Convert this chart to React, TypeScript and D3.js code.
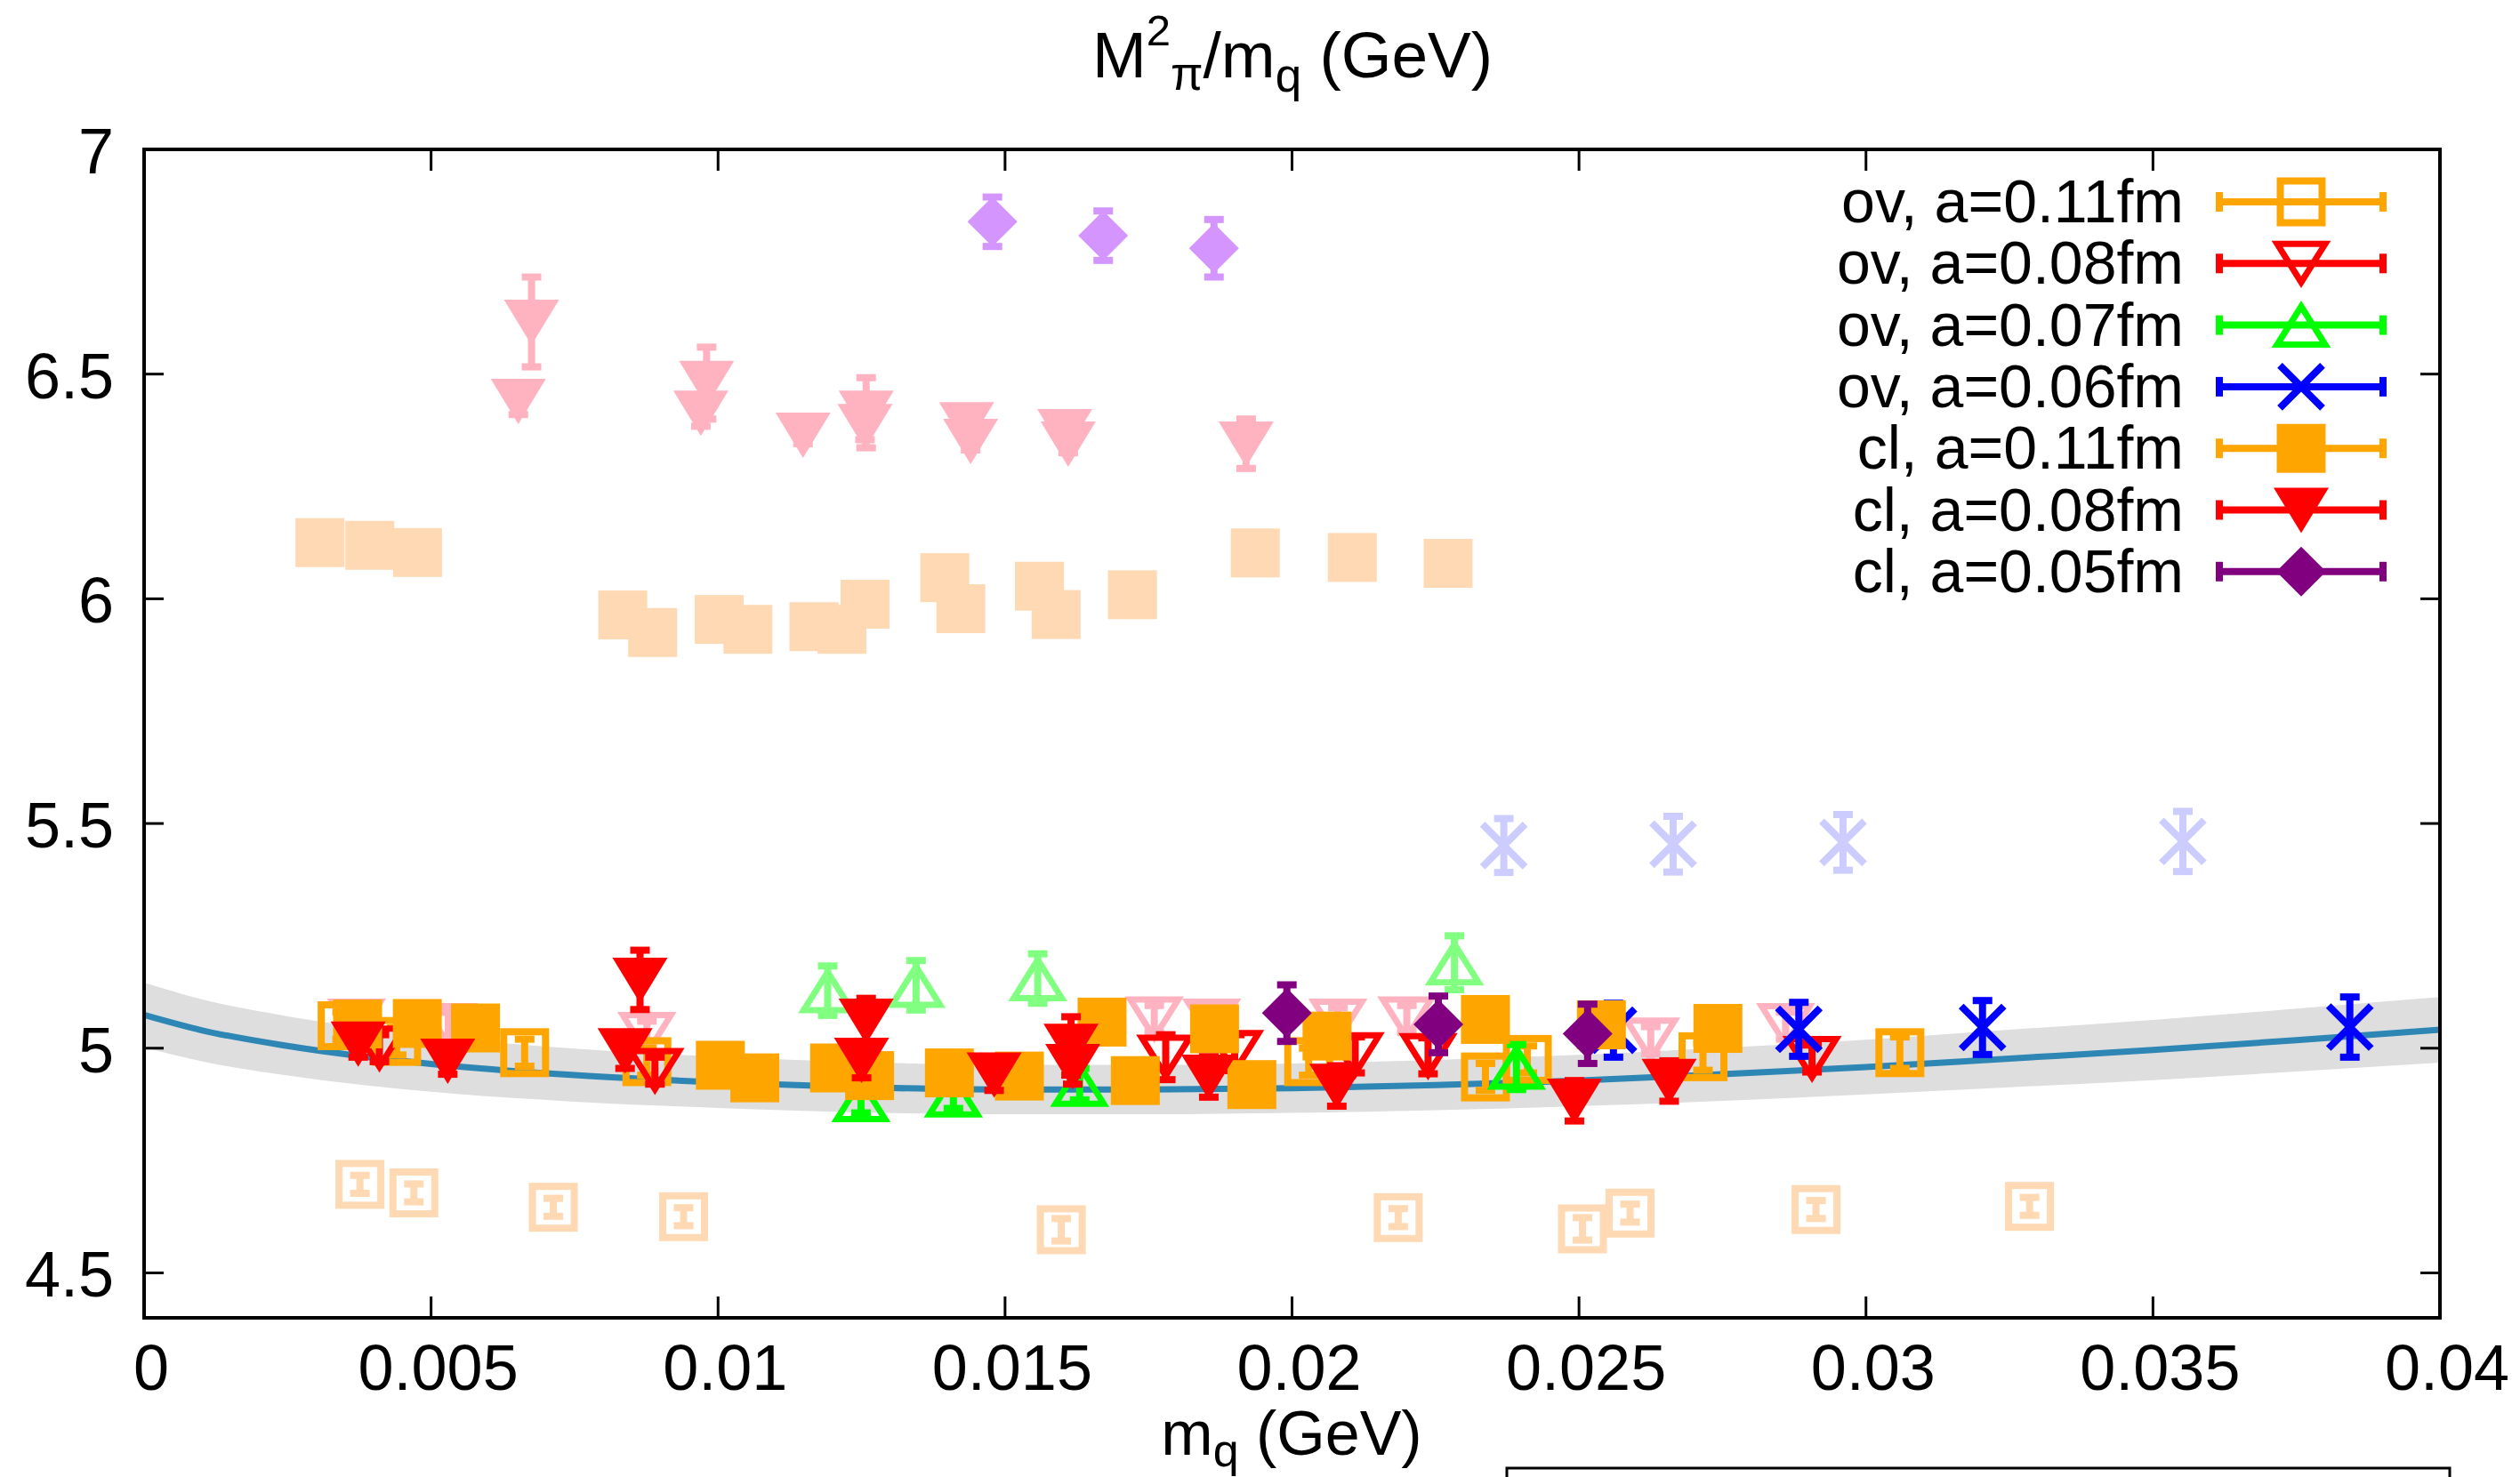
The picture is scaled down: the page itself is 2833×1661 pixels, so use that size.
import React from 'react';
import * as d3 from 'd3';

const W = 2833;
const H = 1661;

// ---------- data ----------
const xTicks = [0, 0.005, 0.01, 0.015, 0.02, 0.025, 0.03, 0.035, 0.04];
const xTickLabels = ['0', '0.005', '0.01', '0.015', '0.02', '0.025', '0.03', '0.035', '0.04'];
const yTicks = [4.5, 5, 5.5, 6, 6.5, 7];
const yTickLabels = ['4.5', '5', '5.5', '6', '6.5', '7'];

// fit curve: x, central value, half width of the band
const fitX = [0, 0.001, 0.0025, 0.005, 0.0075, 0.01, 0.0125, 0.015, 0.0175, 0.02, 0.0225, 0.025, 0.0275, 0.03, 0.0325, 0.035, 0.0375, 0.04];
const fitY = [5.074, 5.04, 5.005, 4.965, 4.940, 4.924, 4.913, 4.908, 4.908, 4.911, 4.918, 4.928, 4.942, 4.958, 4.977, 4.996, 5.018, 5.041];
const fitErr = [0.072, 0.069, 0.066, 0.062, 0.059, 0.057, 0.056, 0.055, 0.055, 0.055, 0.056, 0.057, 0.059, 0.061, 0.064, 0.067, 0.070, 0.073];

// faded (uncorrected) data: [mq, value, error]
const fadedOv011: number[][] = [
  [0.00376, 4.697, 0.02], [0.0047, 4.678, 0.02], [0.00713, 4.646, 0.02], [0.0094, 4.625, 0.02],
  [0.01598, 4.596, 0.025], [0.02185, 4.623, 0.02], [0.02506, 4.598, 0.025], [0.02589, 4.633, 0.02],
  [0.02913, 4.641, 0.02], [0.03285, 4.648, 0.02],
];
const fadedOv008: number[][] = [
  [0.0037, 5.06, 0.03], [0.0053, 5.05, 0.03], [0.00876, 5.03, 0.03], [0.0176, 5.065, 0.03],
  [0.0186, 5.06, 0.03], [0.0208, 5.06, 0.03], [0.022, 5.065, 0.03], [0.02625, 5.018, 0.03], [0.0286, 5.05, 0.03],
];
const fadedOv007: number[][] = [
  [0.01191, 5.128, 0.055], [0.01345, 5.14, 0.055], [0.01557, 5.155, 0.055], [0.02283, 5.19, 0.06],
];
const fadedOv006: number[][] = [
  [0.02369, 5.451, 0.06], [0.02664, 5.454, 0.062], [0.0296, 5.458, 0.062], [0.03552, 5.46, 0.067],
];
const fadedCl011: number[][] = [
  [0.003064, 6.125, 0.02], [0.003933, 6.119, 0.02], [0.004764, 6.103, 0.02], [0.00834, 5.964, 0.02],
  [0.00886, 5.925, 0.02], [0.01002, 5.954, 0.02], [0.01052, 5.932, 0.02], [0.01167, 5.938, 0.02],
  [0.01216, 5.932, 0.02], [0.01256, 5.988, 0.02], [0.01395, 6.047, 0.02], [0.01423, 5.978, 0.02],
  [0.0156, 6.028, 0.02], [0.01589, 5.965, 0.02], [0.01722, 6.009, 0.02], [0.01936, 6.102, 0.02],
  [0.02105, 6.092, 0.02], [0.02272, 6.079, 0.02],
];
const fadedCl008: number[][] = [
  [0.00675, 6.616, 0.1], [0.00652, 6.44, 0.03], [0.0098, 6.48, 0.08], [0.0097, 6.414, 0.03],
  [0.01148, 6.365, 0.02], [0.01258, 6.414, 0.078], [0.01256, 6.384, 0.03], [0.01433, 6.388, 0.02],
  [0.0144, 6.351, 0.02], [0.01604, 6.373, 0.02], [0.0161, 6.345, 0.02], [0.0192, 6.345, 0.055],
];
const fadedCl005: number[][] = [
  [0.01478, 6.839, 0.055], [0.01671, 6.808, 0.055], [0.01864, 6.78, 0.064],
];

// corrected data
const ov011: number[][] = [
  [0.00345, 5.05, 0.03], [0.0044, 5.015, 0.03], [0.00663, 4.99, 0.03], [0.00876, 4.97, 0.03],
  [0.02029, 4.97, 0.03], [0.02337, 4.936, 0.03], [0.0241, 4.975, 0.03], [0.02716, 4.981, 0.03],
  [0.03059, 4.99, 0.035],
];
const ov008: number[][] = [
  [0.0041, 5.0, 0.03], [0.0089, 4.95, 0.03], [0.0178, 4.98, 0.05], [0.019, 4.99, 0.04],
  [0.0211, 4.985, 0.04], [0.02237, 4.983, 0.04], [0.02906, 4.977, 0.03],
];
const ov007: number[][] = [
  [0.01249, 4.886, 0.03], [0.0141, 4.896, 0.03], [0.0163, 4.92, 0.035], [0.02391, 4.958, 0.05],
];
const ov006: number[][] = [
  [0.0256, 5.04, 0.06], [0.02883, 5.042, 0.06], [0.03203, 5.046, 0.06], [0.03843, 5.047, 0.067],
];
const cl011: number[][] = [
  [0.00372, 5.054, 0.04], [0.00476, 5.055, 0.04], [0.005775, 5.045, 0.035], [0.01004, 4.962, 0.03],
  [0.01064, 4.934, 0.03], [0.01203, 4.956, 0.03], [0.01264, 4.939, 0.03], [0.01403, 4.945, 0.03],
  [0.01525, 4.938, 0.03], [0.01669, 5.058, 0.04], [0.01727, 4.928, 0.035], [0.01865, 5.043, 0.04],
  [0.0193, 4.919, 0.035], [0.02061, 5.027, 0.04], [0.02337, 5.064, 0.04], [0.02539, 5.052, 0.035],
  [0.02742, 5.044, 0.035],
];
const cl008: number[][] = [
  [0.00373, 5.01, 0.03], [0.00529, 4.972, 0.03], [0.00864, 5.152, 0.066], [0.00838, 4.995, 0.04],
  [0.01258, 5.061, 0.05], [0.0125, 4.974, 0.04], [0.01481, 4.941, 0.035], [0.01615, 5.005, 0.065],
  [0.01618, 4.96, 0.04], [0.01855, 4.936, 0.045], [0.02078, 4.916, 0.045], [0.02492, 4.883, 0.045],
  [0.02657, 4.927, 0.045],
];
const cl005: number[][] = [
  [0.01991, 5.078, 0.063], [0.02255, 5.053, 0.063], [0.02515, 5.032, 0.066],
];

const legendLabels = ['ov, a=0.11fm', 'ov, a=0.08fm', 'ov, a=0.07fm', 'ov, a=0.06fm', 'cl, a=0.11fm', 'cl, a=0.08fm', 'cl, a=0.05fm'];

// ---------- styles ----------
type Shape = 'sqOpen' | 'sqFill' | 'triDownOpen' | 'triDownFill' | 'triUpOpen' | 'cross' | 'diamond';

const ORANGE = '#FFA500';
const RED = '#FF0000';
const GREEN = '#00FF00';
const BLUE = '#0000FF';
const PURPLE = '#800080';

const fadedSeries: { data: number[][]; shape: Shape; color: string }[] = [
  { data: fadedOv011, shape: 'sqOpen', color: '#FFD9B3' },
  { data: fadedOv008, shape: 'triDownOpen', color: '#FFB3C1' },
  { data: fadedOv007, shape: 'triUpOpen', color: '#80FF80' },
  { data: fadedOv006, shape: 'cross', color: '#CCCCFF' },
  { data: fadedCl011, shape: 'sqFill', color: '#FFD9B3' },
  { data: fadedCl008, shape: 'triDownFill', color: '#FFB3C1' },
  { data: fadedCl005, shape: 'diamond', color: '#D495FF' },
];
const mainSeries: { data: number[][]; shape: Shape; color: string }[] = [
  { data: ov011, shape: 'sqOpen', color: ORANGE },
  { data: ov008, shape: 'triDownOpen', color: RED },
  { data: ov007, shape: 'triUpOpen', color: GREEN },
  { data: ov006, shape: 'cross', color: BLUE },
  { data: cl011, shape: 'sqFill', color: ORANGE },
  { data: cl008, shape: 'triDownFill', color: RED },
  { data: cl005, shape: 'diamond', color: PURPLE },
];

const PLOT = { left: 162, right: 2743, top: 168, bottom: 1482 };
const xS = d3.scaleLinear().domain([0, 0.04]).range([PLOT.left, PLOT.right]);
const yS = d3.scaleLinear().domain([4.4, 7]).range([PLOT.bottom, PLOT.top]);

const LW = 8;
const FONT = '"Liberation Sans", Arial, Helvetica, sans-serif';

function Marker({ shape, cx, cy, color }: { shape: Shape; cx: number; cy: number; color: string }) {
  switch (shape) {
    case 'sqOpen':
      return <rect x={cx - 23.5} y={cy - 23.5} width={47} height={47} fill="none" stroke={color} strokeWidth={LW} />;
    case 'sqFill':
      return <rect x={cx - 27.5} y={cy - 27.5} width={55} height={55} fill={color} />;
    case 'triDownOpen':
      return (
        <polygon
          points={`${cx - 27},${cy - 22} ${cx + 27},${cy - 22} ${cx},${cy + 21}`}
          fill="none" stroke={color} strokeWidth={7} strokeLinejoin="miter" strokeMiterlimit={3}
        />
      );
    case 'triDownFill':
      return <polygon points={`${cx - 31},${cy - 25} ${cx + 31},${cy - 25} ${cx},${cy + 26}`} fill={color} />;
    case 'triUpOpen':
      return (
        <polygon
          points={`${cx - 27},${cy + 22} ${cx + 27},${cy + 22} ${cx},${cy - 21}`}
          fill="none" stroke={color} strokeWidth={7} strokeLinejoin="miter" strokeMiterlimit={3}
        />
      );
    case 'cross':
      return (
        <g stroke={color} strokeWidth={LW}>
          <line x1={cx - 24} y1={cy - 24} x2={cx + 24} y2={cy + 24} />
          <line x1={cx - 24} y1={cy + 24} x2={cx + 24} y2={cy - 24} />
        </g>
      );
    case 'diamond':
      return <polygon points={`${cx},${cy - 28} ${cx + 28},${cy} ${cx},${cy + 28} ${cx - 28},${cy}`} fill={color} />;
  }
  return null;
}

function ErrorBar({ cx, y1, y2, color }: { cx: number; y1: number; y2: number; color: string }) {
  return (
    <g stroke={color} strokeWidth={LW}>
      <line x1={cx} y1={y1} x2={cx} y2={y2} />
      <line x1={cx - 11} y1={y1} x2={cx + 11} y2={y1} />
      <line x1={cx - 11} y1={y2} x2={cx + 11} y2={y2} />
    </g>
  );
}

function Series({ data, shape, color }: { data: number[][]; shape: Shape; color: string }) {
  return (
    <g>
      {data.map((d, i) => (
        <ErrorBar key={'e' + i} cx={xS(d[0])} y1={yS(d[1] + d[2])} y2={yS(d[1] - d[2])} color={color} />
      ))}
      {data.map((d, i) => (
        <Marker key={'m' + i} shape={shape} cx={xS(d[0])} cy={yS(d[1])} color={color} />
      ))}
    </g>
  );
}

export default function App() {
  const fitPts = fitX.map((xv, i) => ({ x: xv, y: fitY[i], e: fitErr[i] }));
  const band = d3
    .area<{ x: number; y: number; e: number }>()
    .x((d) => xS(d.x))
    .y0((d) => yS(d.y - d.e))
    .y1((d) => yS(d.y + d.e))
    .curve(d3.curveMonotoneX)(fitPts) as string;
  const line = d3
    .line<{ x: number; y: number; e: number }>()
    .x((d) => xS(d.x))
    .y((d) => yS(d.y))
    .curve(d3.curveMonotoneX)(fitPts) as string;

  const legendX0 = 2495;
  const legendX1 = 2679;
  const legendSym = 2587;
  const legendTextX = 2455;
  const legendRow0 = 227;
  const legendStep = 69.3;

  return (
    <svg
      width={W}
      height={H}
      viewBox={`0 0 ${W} ${H}`}
      style={{ position: 'absolute', left: 0, top: 0, background: '#fff' }}
      fontFamily={FONT}
    >
      <rect x={0} y={0} width={W} height={H} fill="#fff" />
      <defs>
        <clipPath id="plotClip">
          <rect x={PLOT.left} y={PLOT.top} width={PLOT.right - PLOT.left} height={PLOT.bottom - PLOT.top} />
        </clipPath>
      </defs>

      {/* title */}
      <text x={1453} y={87} textAnchor="middle" fontSize={73} fill="#000">
        <tspan>M</tspan>
        <tspan fontSize={49} dy={-36}>2</tspan>
        <tspan fontSize={53} dy={50}>π</tspan>
        <tspan fontSize={73} dy={-14}>/m</tspan>
        <tspan fontSize={53} dy={16}>q</tspan>
        <tspan fontSize={73} dy={-16}> (GeV)</tspan>
      </text>

      <g clipPath="url(#plotClip)">
        <path d={band} fill="#DEDEDE" />
        <path d={line} fill="none" stroke="#2E86B5" strokeWidth={7} />
        {fadedSeries.map((s, i) => (
          <Series key={'f' + i} data={s.data} shape={s.shape} color={s.color} />
        ))}
        {mainSeries.map((s, i) => (
          <Series key={'s' + i} data={s.data} shape={s.shape} color={s.color} />
        ))}
      </g>

      {/* ticks */}
      <g stroke="#000" strokeWidth={3}>
        {xTicks.map((t, i) => (
          <g key={'xt' + i}>
            <line x1={xS(t)} x2={xS(t)} y1={PLOT.bottom} y2={PLOT.bottom - 24} />
            <line x1={xS(t)} x2={xS(t)} y1={PLOT.top} y2={PLOT.top + 24} />
          </g>
        ))}
        {yTicks.map((t, i) => (
          <g key={'yt' + i}>
            <line x1={PLOT.left} x2={PLOT.left + 22} y1={yS(t)} y2={yS(t)} />
            <line x1={PLOT.right} x2={PLOT.right - 22} y1={yS(t)} y2={yS(t)} />
          </g>
        ))}
      </g>
      <rect
        x={PLOT.left}
        y={PLOT.top}
        width={PLOT.right - PLOT.left}
        height={PLOT.bottom - PLOT.top}
        fill="none"
        stroke="#000"
        strokeWidth={4}
      />

      {/* tick labels */}
      {xTicks.map((t, i) => (
        <text key={'xl' + i} x={xS(t) + 8} y={1563} textAnchor="middle" fontSize={72} fill="#000">
          {xTickLabels[i]}
        </text>
      ))}
      {yTicks.map((t, i) => (
        <text key={'yl' + i} x={128} y={yS(t) + 27} textAnchor="end" fontSize={72} fill="#000">
          {yTickLabels[i]}
        </text>
      ))}

      {/* x axis label */}
      <text x={1452} y={1636} textAnchor="middle" fontSize={70} fill="#000">
        <tspan>m</tspan>
        <tspan fontSize={52} dy={13}>q</tspan>
        <tspan fontSize={70} dy={-13}> (GeV)</tspan>
      </text>

      {/* legend */}
      {mainSeries.map((s, i) => {
        const cy = legendRow0 + i * legendStep;
        return (
          <g key={'lg' + i}>
            <text x={legendTextX} y={cy + 23} textAnchor="end" fontSize={68} fill="#000">
              {legendLabels[i]}
            </text>
            <g stroke={s.color} strokeWidth={LW}>
              <line x1={legendX0} x2={legendX1} y1={cy} y2={cy} />
              <line x1={legendX0} x2={legendX0} y1={cy - 11} y2={cy + 11} />
              <line x1={legendX1} x2={legendX1} y1={cy - 11} y2={cy + 11} />
            </g>
            <Marker shape={s.shape} cx={legendSym} cy={cy} color={s.color} />
          </g>
        );
      })}

      {/* partial frame of a box at the bottom */}
      <rect x={1694} y={1651} width={1060} height={80} fill="none" stroke="#000" strokeWidth={3} />
    </svg>
  );
}
